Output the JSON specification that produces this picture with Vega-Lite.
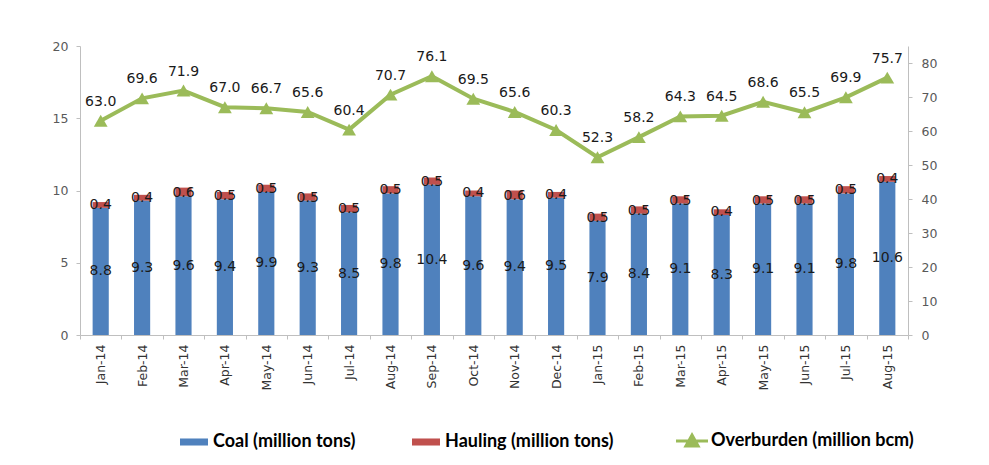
{
  "$schema": "https://vega.github.io/schema/vega-lite/v6.json",
  "width": 828,
  "height": 289,
  "autosize": "none",
  "padding": {"left": 80, "top": 46, "right": 81, "bottom": 130},
  "background": "white",
  "config": {
    "view": {"stroke": null},
    "font": "DejaVu Sans",
    "axis": {"domainColor": "#BFBFBF", "tickColor": "#BFBFBF", "tickSize": 4, "grid": false, "title": null, "labelFont": "DejaVu Sans", "labelFontSize": 12.5, "labelColor": "#595959"}
  },
  "data": {
    "values": [
      {"month": "Jan-14", "coal": 8.8, "hauling": 0.4, "overburden": 63.0},
      {"month": "Feb-14", "coal": 9.3, "hauling": 0.4, "overburden": 69.6},
      {"month": "Mar-14", "coal": 9.6, "hauling": 0.6, "overburden": 71.9},
      {"month": "Apr-14", "coal": 9.4, "hauling": 0.5, "overburden": 67.0},
      {"month": "May-14", "coal": 9.9, "hauling": 0.5, "overburden": 66.7},
      {"month": "Jun-14", "coal": 9.3, "hauling": 0.5, "overburden": 65.6},
      {"month": "Jul-14", "coal": 8.5, "hauling": 0.5, "overburden": 60.4},
      {"month": "Aug-14", "coal": 9.8, "hauling": 0.5, "overburden": 70.7},
      {"month": "Sep-14", "coal": 10.4, "hauling": 0.5, "overburden": 76.1},
      {"month": "Oct-14", "coal": 9.6, "hauling": 0.4, "overburden": 69.5},
      {"month": "Nov-14", "coal": 9.4, "hauling": 0.6, "overburden": 65.6},
      {"month": "Dec-14", "coal": 9.5, "hauling": 0.4, "overburden": 60.3},
      {"month": "Jan-15", "coal": 7.9, "hauling": 0.5, "overburden": 52.3},
      {"month": "Feb-15", "coal": 8.4, "hauling": 0.5, "overburden": 58.2},
      {"month": "Mar-15", "coal": 9.1, "hauling": 0.5, "overburden": 64.3},
      {"month": "Apr-15", "coal": 8.3, "hauling": 0.4, "overburden": 64.5},
      {"month": "May-15", "coal": 9.1, "hauling": 0.5, "overburden": 68.6},
      {"month": "Jun-15", "coal": 9.1, "hauling": 0.5, "overburden": 65.5},
      {"month": "Jul-15", "coal": 9.8, "hauling": 0.5, "overburden": 69.9},
      {"month": "Aug-15", "coal": 10.6, "hauling": 0.4, "overburden": 75.7}
    ]
  },
  "encoding": {
    "x": {
      "field": "month", "type": "ordinal", "sort": null,
      "scale": {"paddingInner": 0, "paddingOuter": 0},
      "axis": {"labelAngle": -90, "labelColor": "#333333", "tickBand": "extent", "labelPadding": 5, "title": null}
    }
  },
  "layer": [
    {
      "layer": [
        {
          "transform": [{"fold": ["coal", "hauling"], "as": ["key", "value"]}],
          "mark": {"type": "bar", "width": {"band": 0.39}},
          "encoding": {
            "y": {"field": "value", "type": "quantitative", "stack": "zero", "scale": {"domain": [0, 20]},
              "axis": {"orient": "left", "values": [0, 5, 10, 15, 20], "labelPadding": 8}},
            "order": {"field": "key", "type": "ordinal", "sort": "ascending"},
            "color": {
              "field": "key", "type": "nominal",
              "scale": {"domain": ["coal", "hauling", "overburden"], "range": ["#4F81BD", "#C0504D", "#9BBB59"]},
              "legend": {
                "orient": "none", "legendX": 105, "legendY": 386,
                "direction": "horizontal", "columns": 3, "columnPadding": 56,
                "title": null, "padding": 0, "labelLimit": 0,
                "labelExpr": "{'coal': 'Coal (million tons)', 'hauling': 'Hauling (million tons)', 'overburden': 'Overburden (million bcm)'}[datum.label]",
                "labelFont": "Lato", "labelFontWeight": "bold", "labelFontSize": 18, "labelColor": "#000000",
                "labelOffset": 10, "symbolSize": 1024,
                "encode": {
                  "symbols": {
                    "update": {
                      "shape": {"signal": "datum.value === 'overburden' ? 'M-1,0H1M0,-0.38L0.38,0.3L-0.38,0.3Z' : 'M-0.875,-0.22H0.875V0.22H-0.875Z'"},
                      "strokeWidth": {"signal": "datum.value === 'overburden' ? 3 : 0"},
                      "fill": {"scale": "color", "field": "value"},
                      "stroke": {"scale": "color", "field": "value"},
                      "opacity": {"value": 1},
                      "fillOpacity": {"value": 1}
                    }
                  }
                }
              }
            }
          }
        },
        {
          "mark": {"type": "text", "fontSize": 14, "color": "#1a1a1a", "baseline": "middle", "dy": -3},
          "encoding": {
            "y": {"field": "coal", "type": "quantitative", "scale": {"domain": [0, 20]},
              "axis": {"orient": "left", "values": [0, 5, 10, 15, 20], "labelPadding": 8}},
            "text": {"field": "hauling", "type": "quantitative", "format": ".1f"}
          }
        }
      ]
    },
    {
      "mark": {"type": "text", "fontSize": 14, "color": "#1a1a1a", "baseline": "middle"},
      "encoding": {
        "y": {"field": "coal", "type": "quantitative", "scale": {"domain": [0, 40]}, "axis": null},
        "text": {"field": "coal", "type": "quantitative", "format": ".1f"}
      }
    },
    {
      "encoding": {
        "y": {"field": "overburden", "type": "quantitative", "scale": {"domain": [0, 85]},
          "axis": {"orient": "right", "values": [0, 10, 20, 30, 40, 50, 60, 70, 80], "labelPadding": 9}}
      },
      "layer": [
        {
          "mark": {"type": "line", "strokeWidth": 4},
          "encoding": {"color": {"datum": "overburden", "type": "nominal"}}
        },
        {
          "mark": {"type": "point", "shape": "triangle-up", "filled": true, "size": 190, "opacity": 1},
          "encoding": {"color": {"datum": "overburden", "type": "nominal"}}
        },
        {
          "mark": {"type": "text", "fontSize": 14, "color": "#1a1a1a", "baseline": "middle", "dy": -19},
          "encoding": {"text": {"field": "overburden", "type": "quantitative", "format": ".1f"}}
        }
      ]
    }
  ],
  "resolve": {"scale": {"y": "independent"}}
}
